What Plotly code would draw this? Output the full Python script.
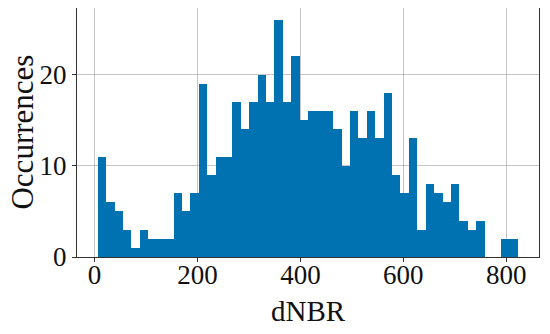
import plotly.graph_objects as go

# histogram of dNBR values, 50 bins
bin_start = 6.5
bin_width = 16.33
counts = [11, 6, 5, 3, 1, 3, 2, 2, 2, 7,
          5, 7, 19, 9, 11, 11, 17, 14, 17, 20,
          17, 26, 17, 22, 15, 16, 16, 16, 14, 10,
          16, 13, 16, 13, 18, 9, 7, 13, 3, 8,
          7, 6, 8, 4, 3, 4, 0, 0, 2, 2]
x_ticks = [0, 200, 400, 600, 800]
y_ticks = [0, 10, 20]

centers = [bin_start + bin_width * (i + 0.5) for i in range(len(counts))]

fig = go.Figure(go.Bar(x=centers, y=counts, width=bin_width,
                       marker=dict(color="#0072b2", line=dict(width=0))))

font = "Liberation Serif, Times New Roman, serif"
axis_common = dict(showline=True, linecolor="#333333", linewidth=1, mirror=True,
                   showgrid=True, gridcolor="rgba(150,150,150,0.55)", gridwidth=1,
                   ticks="outside", ticklen=4, tickcolor="#333333",
                   zeroline=False, layer="above traces", automargin=False,
                   tickfont=dict(family=font, size=27, color="#111111"))

# page body adds an 8px margin, so the figure is sized to fit inside the window
fig.update_layout(
    width=534, height=318,
    margin=dict(l=69, r=3, t=0, b=69),
    plot_bgcolor="white", paper_bgcolor="white",
    bargap=0, showlegend=False,
    xaxis=dict(range=[-34, 863.5], tickvals=x_ticks, ticklabelstandoff=-10, **axis_common),
    yaxis=dict(range=[0, 27.3], tickvals=y_ticks, **axis_common),
)

# axis titles as annotations so they can be placed exactly
fig.add_annotation(text="dNBR", xref="paper", yref="paper", x=0.5, y=-0.215,
                   xanchor="center", yanchor="middle", showarrow=False,
                   font=dict(family=font, size=29, color="#111111"))
fig.add_annotation(text="Occurrences", xref="paper", yref="paper", x=-0.119, y=0.5,
                   xanchor="center", yanchor="middle", showarrow=False, textangle=-90,
                   font=dict(family=font, size=31, color="#111111"))

fig.write_html("out.html")
